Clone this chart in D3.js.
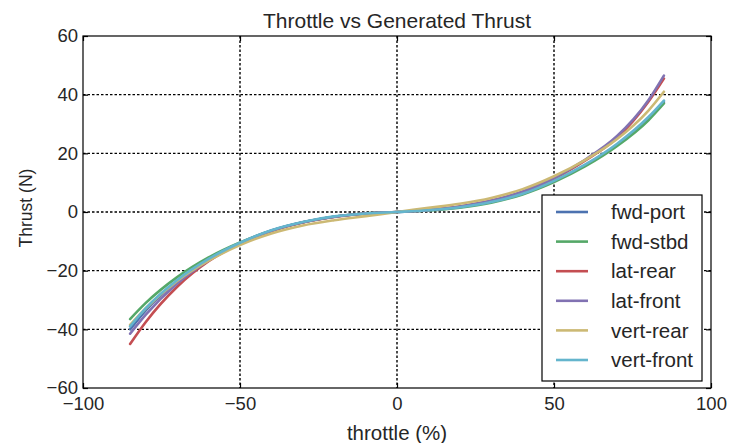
<!DOCTYPE html>
<html>
<head>
<meta charset="utf-8">
<script src="https://cdn.jsdelivr.net/npm/d3@7"></script>
<style>
  html, body { margin: 0; padding: 0; background: #fff; }
  svg { display: block; font-family: "Liberation Sans", Arial, sans-serif; }
</style>
</head>
<body>
<svg id="chart" width="731" height="443"></svg>
<script>
// Throttle sample points (%)
const throttle = [-85, -80, -70, -60, -50, -40, -30, -20, -10, 0, 10, 20, 30, 40, 50, 60, 70, 80, 85];

// Measured thrust (N) for each thruster
const fwdPort   = [-40.0, -33.5, -23.6, -16.2, -10.6, -6.3, -3.5, -1.6, -0.5, 0, 0.6, 1.7, 3.5, 6.3, 10.6, 16.0, 22.8, 31.6, 37.5];
const fwdStbd   = [-36.5, -31.0, -22.2, -15.5, -10.4, -6.4, -3.5, -1.6, -0.5, 0, 0.5, 1.5, 3.2, 6.0, 10.2, 15.6, 22.4, 31.2, 37.0];
const latRear   = [-45.0, -37.5, -25.5, -16.8, -10.8, -6.5, -3.6, -1.7, -0.5, 0, 0.7, 1.9, 3.8, 6.8, 11.4, 17.6, 25.2, 37.5, 45.5];
const latFront  = [-41.5, -35.0, -24.4, -16.5, -10.7, -6.4, -3.5, -1.6, -0.5, 0, 0.7, 1.9, 3.9, 7.0, 11.6, 17.9, 25.8, 38.0, 46.5];
const vertRear  = [-38.5, -32.8, -23.5, -16.6, -11.3, -7.3, -4.6, -2.8, -1.4, 0, 1.4, 2.8, 4.8, 7.8, 12.2, 17.8, 24.8, 34.5, 41.0];
const vertFront = [-39.0, -32.8, -23.2, -16.0, -10.5, -6.2, -3.4, -1.5, -0.5, 0, 0.6, 1.6, 3.4, 6.2, 10.6, 16.2, 23.2, 32.3, 38.0];

const seriesNames  = ["fwd-port", "fwd-stbd", "lat-rear", "lat-front", "vert-rear", "vert-front"];
const seriesValues = [fwdPort, fwdStbd, latRear, latFront, vertRear, vertFront];
const seriesColors = ["#4c72b0", "#55a868", "#c44e52", "#8172b2", "#ccb974", "#64b5cd"];

const xTicks = [-100, -50, 0, 50, 100];
const yTicks = [-60, -40, -20, 0, 20, 40, 60];

const svg = d3.select("#chart");
const pLeft = 83, pRight = 711, pTop = 36, pBottom = 388;

const x = d3.scaleLinear().domain([-100, 100]).range([pLeft, pRight]);
const y = d3.scaleLinear().domain([-60, 60]).range([pBottom, pTop]);
const fmt = d3.format("");
const blank = () => "";
const textColor = "#262626";

// grid
const grid = svg.append("g");
grid.selectAll(".gx").data(xTicks.slice(1, -1)).join("line")
  .attr("x1", d => x(d)).attr("x2", d => x(d)).attr("y1", pTop).attr("y2", pBottom)
  .attr("stroke", "#000").attr("stroke-width", 1.4).attr("stroke-dasharray", "2.5,2");
grid.selectAll(".gy").data(yTicks.slice(1, -1)).join("line")
  .attr("x1", pLeft).attr("x2", pRight).attr("y1", d => y(d)).attr("y2", d => y(d))
  .attr("stroke", "#000").attr("stroke-width", 1.4).attr("stroke-dasharray", "2.5,2");

// curves
const line = d3.line().x(d => x(d[0])).y(d => y(d[1])).curve(d3.curveMonotoneX);
svg.append("g").selectAll("path").data(seriesValues).join("path")
  .attr("d", vals => line(throttle.map((t, i) => [t, vals[i]])))
  .attr("fill", "none")
  .attr("stroke", (d, i) => seriesColors[i])
  .attr("stroke-width", 2.6)
  .attr("stroke-linecap", "round");

// axes (ticks point inward on all four sides)
const axStyle = g => {
  g.select(".domain").remove();
  g.selectAll(".tick line").attr("stroke", "#000").attr("stroke-width", 1.2);
  g.selectAll(".tick text").attr("fill", textColor).attr("font-size", 18.5)
    .attr("font-family", "Liberation Sans, Arial, sans-serif");
};
svg.append("g").attr("transform", `translate(0,${pBottom})`)
  .call(d3.axisBottom(x).tickValues(xTicks).tickFormat(fmt).tickSizeInner(-5).tickSizeOuter(0).tickPadding(8.5))
  .call(axStyle);
svg.append("g").attr("transform", `translate(0,${pTop})`)
  .call(d3.axisTop(x).tickValues(xTicks).tickFormat(blank).tickSizeInner(-5).tickSizeOuter(0))
  .call(axStyle);
svg.append("g").attr("transform", `translate(${pLeft},0)`)
  .call(d3.axisLeft(y).tickValues(yTicks).tickFormat(fmt).tickSizeInner(-5).tickSizeOuter(0).tickPadding(5))
  .call(axStyle);
svg.append("g").attr("transform", `translate(${pRight},0)`)
  .call(d3.axisRight(y).tickValues(yTicks).tickFormat(blank).tickSizeInner(-5).tickSizeOuter(0))
  .call(axStyle);

// frame
svg.append("rect").attr("x", pLeft).attr("y", pTop)
  .attr("width", pRight - pLeft).attr("height", pBottom - pTop)
  .attr("fill", "none").attr("stroke", "#000").attr("stroke-width", 1.2);

// titles
svg.append("text").attr("x", 397).attr("y", 28)
  .attr("text-anchor", "middle").attr("font-size", 21).attr("fill", textColor)
  .text("Throttle vs Generated Thrust");
svg.append("text").attr("x", 397).attr("y", 440)
  .attr("text-anchor", "middle").attr("font-size", 20.5).attr("fill", textColor)
  .text("throttle (%)");
svg.append("text").attr("transform", "translate(32,208) rotate(-90)")
  .attr("text-anchor", "middle").attr("font-size", 17.5).attr("fill", textColor)
  .text("Thrust (N)");

// legend
const lg = svg.append("g");
lg.append("rect").attr("x", 542).attr("y", 195).attr("width", 160).attr("height", 186)
  .attr("fill", "#fff").attr("stroke", "#000").attr("stroke-width", 1.2);
const items = lg.selectAll(".item").data(seriesNames).join("g")
  .attr("transform", (d, i) => `translate(0,${212 + i * 29.6})`);
items.append("line").attr("x1", 556).attr("x2", 588).attr("y1", 0).attr("y2", 0)
  .attr("stroke", (d, i) => seriesColors[i]).attr("stroke-width", 2.6);
items.append("text").attr("x", 611).attr("y", 0).attr("dy", "0.35em")
  .attr("font-size", 20.5).attr("fill", textColor).text(d => d);
</script>
</body>
</html>
